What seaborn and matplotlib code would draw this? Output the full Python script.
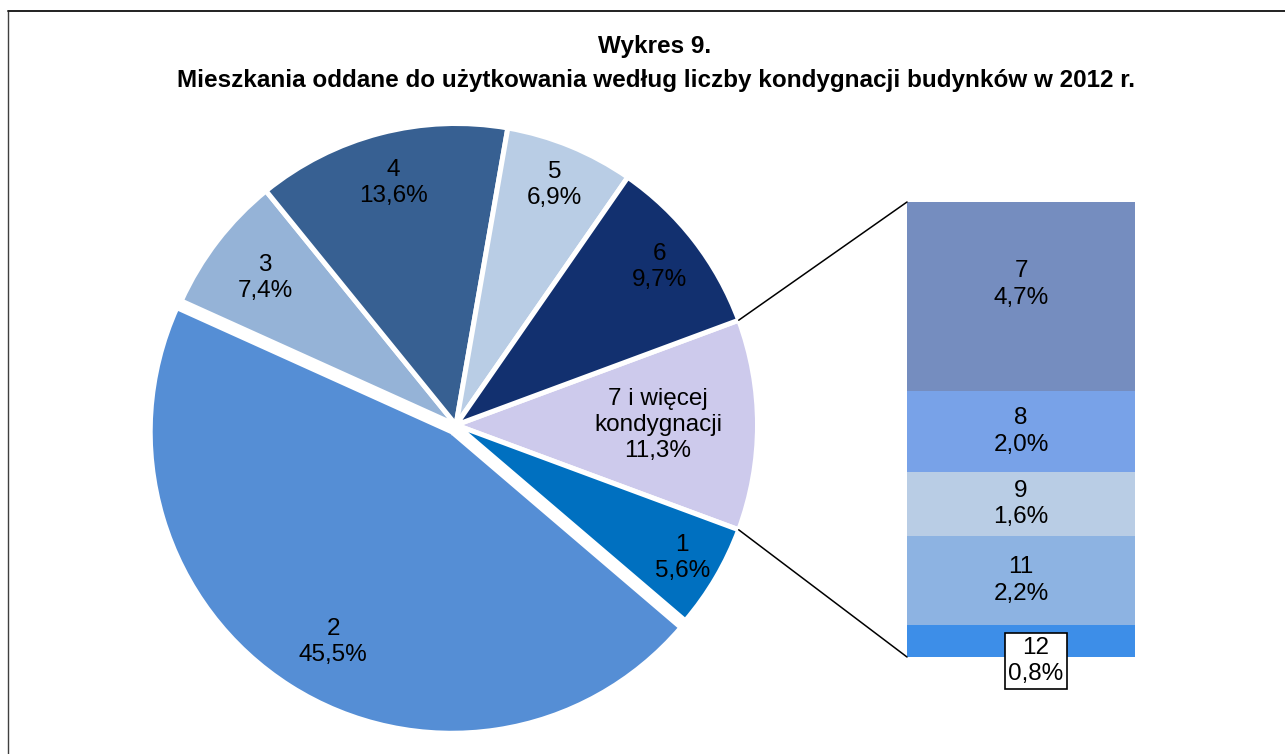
import numpy as np
import matplotlib
matplotlib.use("Agg")
from matplotlib import pyplot as plt
from matplotlib.patches import ConnectionPatch
from matplotlib.lines import Line2D
import seaborn as sns

# pie slices (clockwise from the right)
pie_labels = ["7 i więcej\nkondygnacji", "1", "2", "3", "4", "5", "6"]
pie_values = [11.3, 5.6, 45.5, 7.4, 13.6, 6.9, 9.7]
pie_colors = ["#CDCAEC", "#0070C0", "#558ED5", "#95B3D7", "#376092", "#B9CDE5", "#12306F"]

# breakdown of "7 i więcej" (top to bottom)
bar_labels = ["7", "8", "9", "11", "12"]
bar_values = [4.7, 2.0, 1.6, 2.2, 0.8]
bar_colors = ["#758DBF", "#78A2E8", "#B9CDE5", "#8DB3E2", "#3D8EE8"]

title_1 = "Wykres 9."
title_2 = "Mieszkania oddane do użytkowania według liczby kondygnacji budynków w 2012 r."


def pct(v):
    return f"{v:.1f}".replace(".", ",") + "%"


sns.set_style("white")
plt.rcParams["font.family"] = ["Liberation Sans", "DejaVu Sans"]
plt.rcParams["text.color"] = "black"

W, H = 1285, 754
fig = plt.figure(figsize=(W / 100, H / 100), dpi=100)
ax = fig.add_axes([0, 0, 1, 1])

cx, cy, r = 456, H - 425, 301.5
# explode is in data units (pixels here), slice "2" pulled out a bit
explode = [0, 0, 8, 0, 0, 0, 0]
wedges, _ = ax.pie(pie_values, colors=pie_colors, explode=explode,
                   startangle=pie_values[0] * 3.6 / 2, counterclock=False,
                   center=(cx, cy), radius=r, frame=False,
                   wedgeprops=dict(edgecolor="white", linewidth=3.6))
ax.set_xlim(0, W)
ax.set_ylim(0, H)
ax.set_axis_off()

fs = 17.5
label_dist = [0.67, 0.87, 0.80, 0.80, 0.83, 0.86, 0.855]
label_shift = [0, 0, 3, 0, 0, 0, 0]  # small angular nudges (degrees)
for w, lab, val, d, s in zip(wedges, pie_labels, pie_values, label_dist, label_shift):
    ang = np.deg2rad((w.theta1 + w.theta2) / 2 + s)
    x = w.center[0] + d * r * np.cos(ang)
    y = w.center[1] + d * r * np.sin(ang)
    ax.text(x, y, f"{lab}\n{pct(val)}", ha="center", va="center",
            fontsize=fs, linespacing=1.25)

# stacked bar
bax = fig.add_axes([907 / W, (H - 657) / H, 228 / W, 455 / H])
bottom = sum(bar_values)
for lab, val, col in zip(bar_labels, bar_values, bar_colors):
    bottom -= val
    bax.bar(0, val, bottom=bottom, width=1, color=col, linewidth=0)
    if lab == "12":
        bax.text(0.065, bottom - 0.1, f"{lab}\n{pct(val)}", ha="center", va="center",
                 fontsize=fs, linespacing=1.25,
                 bbox=dict(boxstyle="square,pad=0.15", facecolor="white",
                           edgecolor="black", linewidth=1.2))
    else:
        ty = bottom + val / 2 + (0.3 if lab == "7" else 0)
        bax.text(0, ty, f"{lab}\n{pct(val)}", ha="center", va="center",
                 fontsize=fs, linespacing=1.25)
bax.set_xlim(-0.5, 0.5)
bax.set_ylim(0, sum(bar_values))
bax.set_axis_off()

# connector lines
w0 = wedges[0]
for theta, yb in [(w0.theta2, sum(bar_values)), (w0.theta1, 0)]:
    t = np.deg2rad(theta)
    xa = w0.center[0] + r * np.cos(t)
    ya = w0.center[1] + r * np.sin(t)
    con = ConnectionPatch(xyA=(xa, ya), coordsA=ax.transData,
                          xyB=(-0.5, yb), coordsB=bax.transData,
                          color="black", linewidth=1.1)
    fig.add_artist(con)

fig.text(655 / W, 1 - 47 / H, title_1, ha="center", va="center",
         fontsize=17.5, fontweight="bold")
fig.text(656 / W, 1 - 80 / H, title_2, ha="center", va="center",
         fontsize=17.5, fontweight="bold")

# outer frame (cropped on the right and bottom)
fig.add_artist(Line2D([8 / W, 8 / W], [0, 1 - 11 / H], color="#404040", linewidth=1))
fig.add_artist(Line2D([8 / W, 1], [1 - 11 / H, 1 - 11 / H], color="#202020", linewidth=1.4))

fig.savefig("out.png", dpi=100)
